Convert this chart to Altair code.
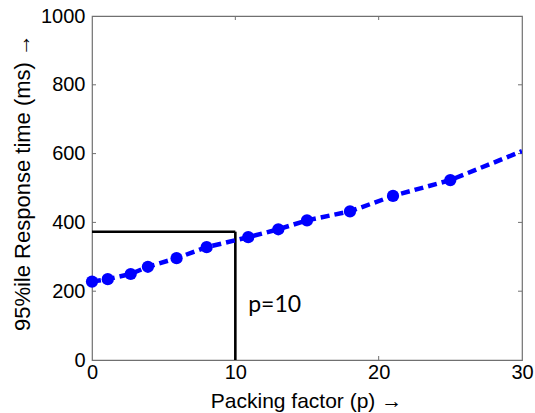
import altair as alt
import pandas as pd

# Blue series (packing factor p vs 95%ile response time)
p_values = [0, 1.1, 2.7, 3.9, 5.9, 8.0, 10.9, 13.0, 15.0, 18.0, 21.0, 25.0, 30.0]
resp_ms = [228, 235, 250, 271, 296, 328, 357, 380, 406, 432, 477, 523, 607]
has_marker = [True] * 12 + [False]

# Marker line at p = 10
mark_p = 10
mark_resp = 373
annot_text = "p=10"
annot_x = 10.9
annot_y = 140

x_ticks = [0, 10, 20, 30]
y_ticks = [0, 200, 400, 600, 800, 1000]

W, H = 430, 344
XMIN, XMAX, YMIN, YMAX = 0, 30, 0, 1000
TICK_PX = 4
tx = TICK_PX * (XMAX - XMIN) / W
ty = TICK_PX * (YMAX - YMIN) / H

df = pd.DataFrame({"p": p_values, "t": resp_ms, "m": has_marker})

xs = alt.Scale(domain=[XMIN, XMAX], nice=False, zero=False)
ys = alt.Scale(domain=[YMIN, YMAX], nice=False, zero=False)

FONT = "Liberation Sans"
xaxis = alt.Axis(values=x_ticks, ticks=False, grid=False, domain=False, format="d",
                 labelFontSize=20, labelFont=FONT, labelColor="black",
                 labelPadding=2, title="Packing factor (p) →", titleFont=FONT,
                 titleFontSize=21, titleFontWeight="normal", titleColor="black",
                 titleX=214, titleY=47, titleBaseline="alphabetic", titleAnchor="middle",
                 labelFlush=False)
yaxis = alt.Axis(values=y_ticks, ticks=False, grid=False, domain=False, format="d",
                 labelFontSize=20, labelFont=FONT, labelColor="black",
                 labelPadding=7, title="95%ile Response time (ms) →", titleFont=FONT,
                 titleFontSize=22, titleFontWeight="normal", titleColor="black",
                 titleX=-70, titleY=166, titleBaseline="middle", titleAlign="center",
                 titleAngle=270, labelFlush=False)

base = alt.Chart(df)

line = base.mark_line(color="#0000ff", strokeWidth=4.5, strokeDash=[9, 5],
                      strokeCap="butt", clip=True).encode(
    x=alt.X("p:Q", scale=xs, axis=xaxis),
    y=alt.Y("t:Q", scale=ys, axis=yaxis),
)
pts = base.transform_filter("datum.m").mark_circle(
    color="#0000ff", size=150, opacity=1).encode(x=alt.X("p:Q", scale=xs), y=alt.Y("t:Q", scale=ys))

guide = pd.DataFrame({"x": [XMIN, mark_p], "x2": [mark_p, mark_p],
                      "y": [mark_resp, YMIN], "y2": [mark_resp, mark_resp]})
guides = alt.Chart(guide).mark_rule(color="black", strokeWidth=2.6).encode(
    x=alt.X("x:Q", scale=xs), x2="x2:Q", y=alt.Y("y:Q", scale=ys), y2="y2:Q")

annot = alt.Chart(pd.DataFrame({"x": [annot_x], "y": [annot_y], "s": [annot_text]})).mark_text(
    align="left", baseline="alphabetic", fontSize=23, font="Lato", color="black").encode(
    x=alt.X("x:Q", scale=xs), y=alt.Y("y:Q", scale=ys), text="s:N")

# inward ticks on all four sides
tick_rows = []
for v in x_ticks[1:-1]:
    tick_rows.append({"x": v, "x2": v, "y": YMIN, "y2": YMIN + ty})
    tick_rows.append({"x": v, "x2": v, "y": YMAX, "y2": YMAX - ty})
for v in y_ticks[1:-1]:
    tick_rows.append({"x": XMIN, "x2": XMIN + tx, "y": v, "y2": v})
    tick_rows.append({"x": XMAX, "x2": XMAX - tx, "y": v, "y2": v})
ticks = alt.Chart(pd.DataFrame(tick_rows)).mark_rule(color="#707070", strokeWidth=1).encode(
    x=alt.X("x:Q", scale=xs), x2="x2:Q", y=alt.Y("y:Q", scale=ys), y2="y2:Q")

chart = alt.layer(ticks, guides, line, pts, annot).properties(
    width=W, height=H,
    autosize=alt.AutoSizeParams(type="none"),
    padding={"left": 92, "top": 16, "right": 535 - 92 - W, "bottom": 413 - 16 - H},
    background="white",
).configure_view(stroke="#707070", strokeWidth=1.2)

chart.save("out.html", embed_options={"renderer": "svg", "actions": False})
